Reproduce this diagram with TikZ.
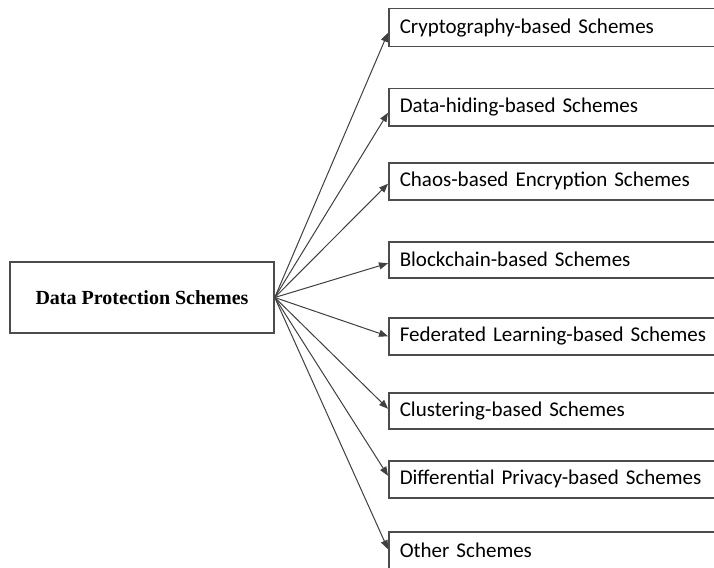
\documentclass[tikz,border=0pt]{standalone}
\usepackage{fontspec}
\setmainfont{Liberation Serif}
\newfontfamily\calib{Carlito}
\usetikzlibrary{arrows.meta}
\begin{document}
\begin{tikzpicture}[x=1pt,y=-1pt,
 lbox/.style={draw=black!70, line width=1.5pt, minimum width=264pt, minimum height=71pt, inner sep=0pt, font=\fontsize{20}{24}\selectfont\bfseries},
 rbox/.style={draw=black!70, line width=1.5pt, anchor=north west, minimum height=#1, text width=330pt, inner xsep=11pt, inner ysep=0pt, align=left, font=\calib\fontsize{21}{25}\selectfont},
 conn/.style={draw=black!75, line width=1pt, -{Triangle[length=9pt,width=7pt]}}]
\useasboundingbox (0,0) rectangle (714,567);
\fill[white] (0,0) rectangle (714,567);
\begin{scope}
\clip (0,0) rectangle (714,567);
\node[lbox] (L) at (142,297.5) {Data Protection Schemes};
\node[rbox=38pt] (b1) at (388,8) {Cryptography-based Schemes};
\node[rbox=37pt] (b2) at (388,88) {Data-hiding-based Schemes};
\node[rbox=37pt] (b3) at (388,162) {Chaos-based Encryption Schemes};
\node[rbox=36pt] (b4) at (388,241) {Blockchain-based Schemes};
\node[rbox=37pt] (b5) at (388,317) {Federated Learning-based Schemes};
\node[rbox=36pt] (b6) at (388,392) {Clustering-based Schemes};
\node[rbox=37pt] (b7) at (388,460) {Differential Privacy-based Schemes};
\node[rbox=37pt] (b8) at (388,531) {Other Schemes};
\draw[conn] (L.east) -- ([yshift=-5pt]b1.west);
\draw[conn] (L.east) -- ([yshift=-5.5pt]b2.west);
\draw[conn] (L.east) -- ([yshift=-2.5pt]b3.west);
\draw[conn] (L.east) -- ([yshift=-3.5pt]b4.west);
\draw[conn] (L.east) -- (b5.west);
\draw[conn] (L.east) -- ([yshift=2pt]b6.west);
\draw[conn] (L.east) -- ([yshift=3.5pt]b7.west);
\draw[conn] (L.east) -- ([yshift=1pt]b8.west);
\end{scope}
\end{tikzpicture}
\end{document}
